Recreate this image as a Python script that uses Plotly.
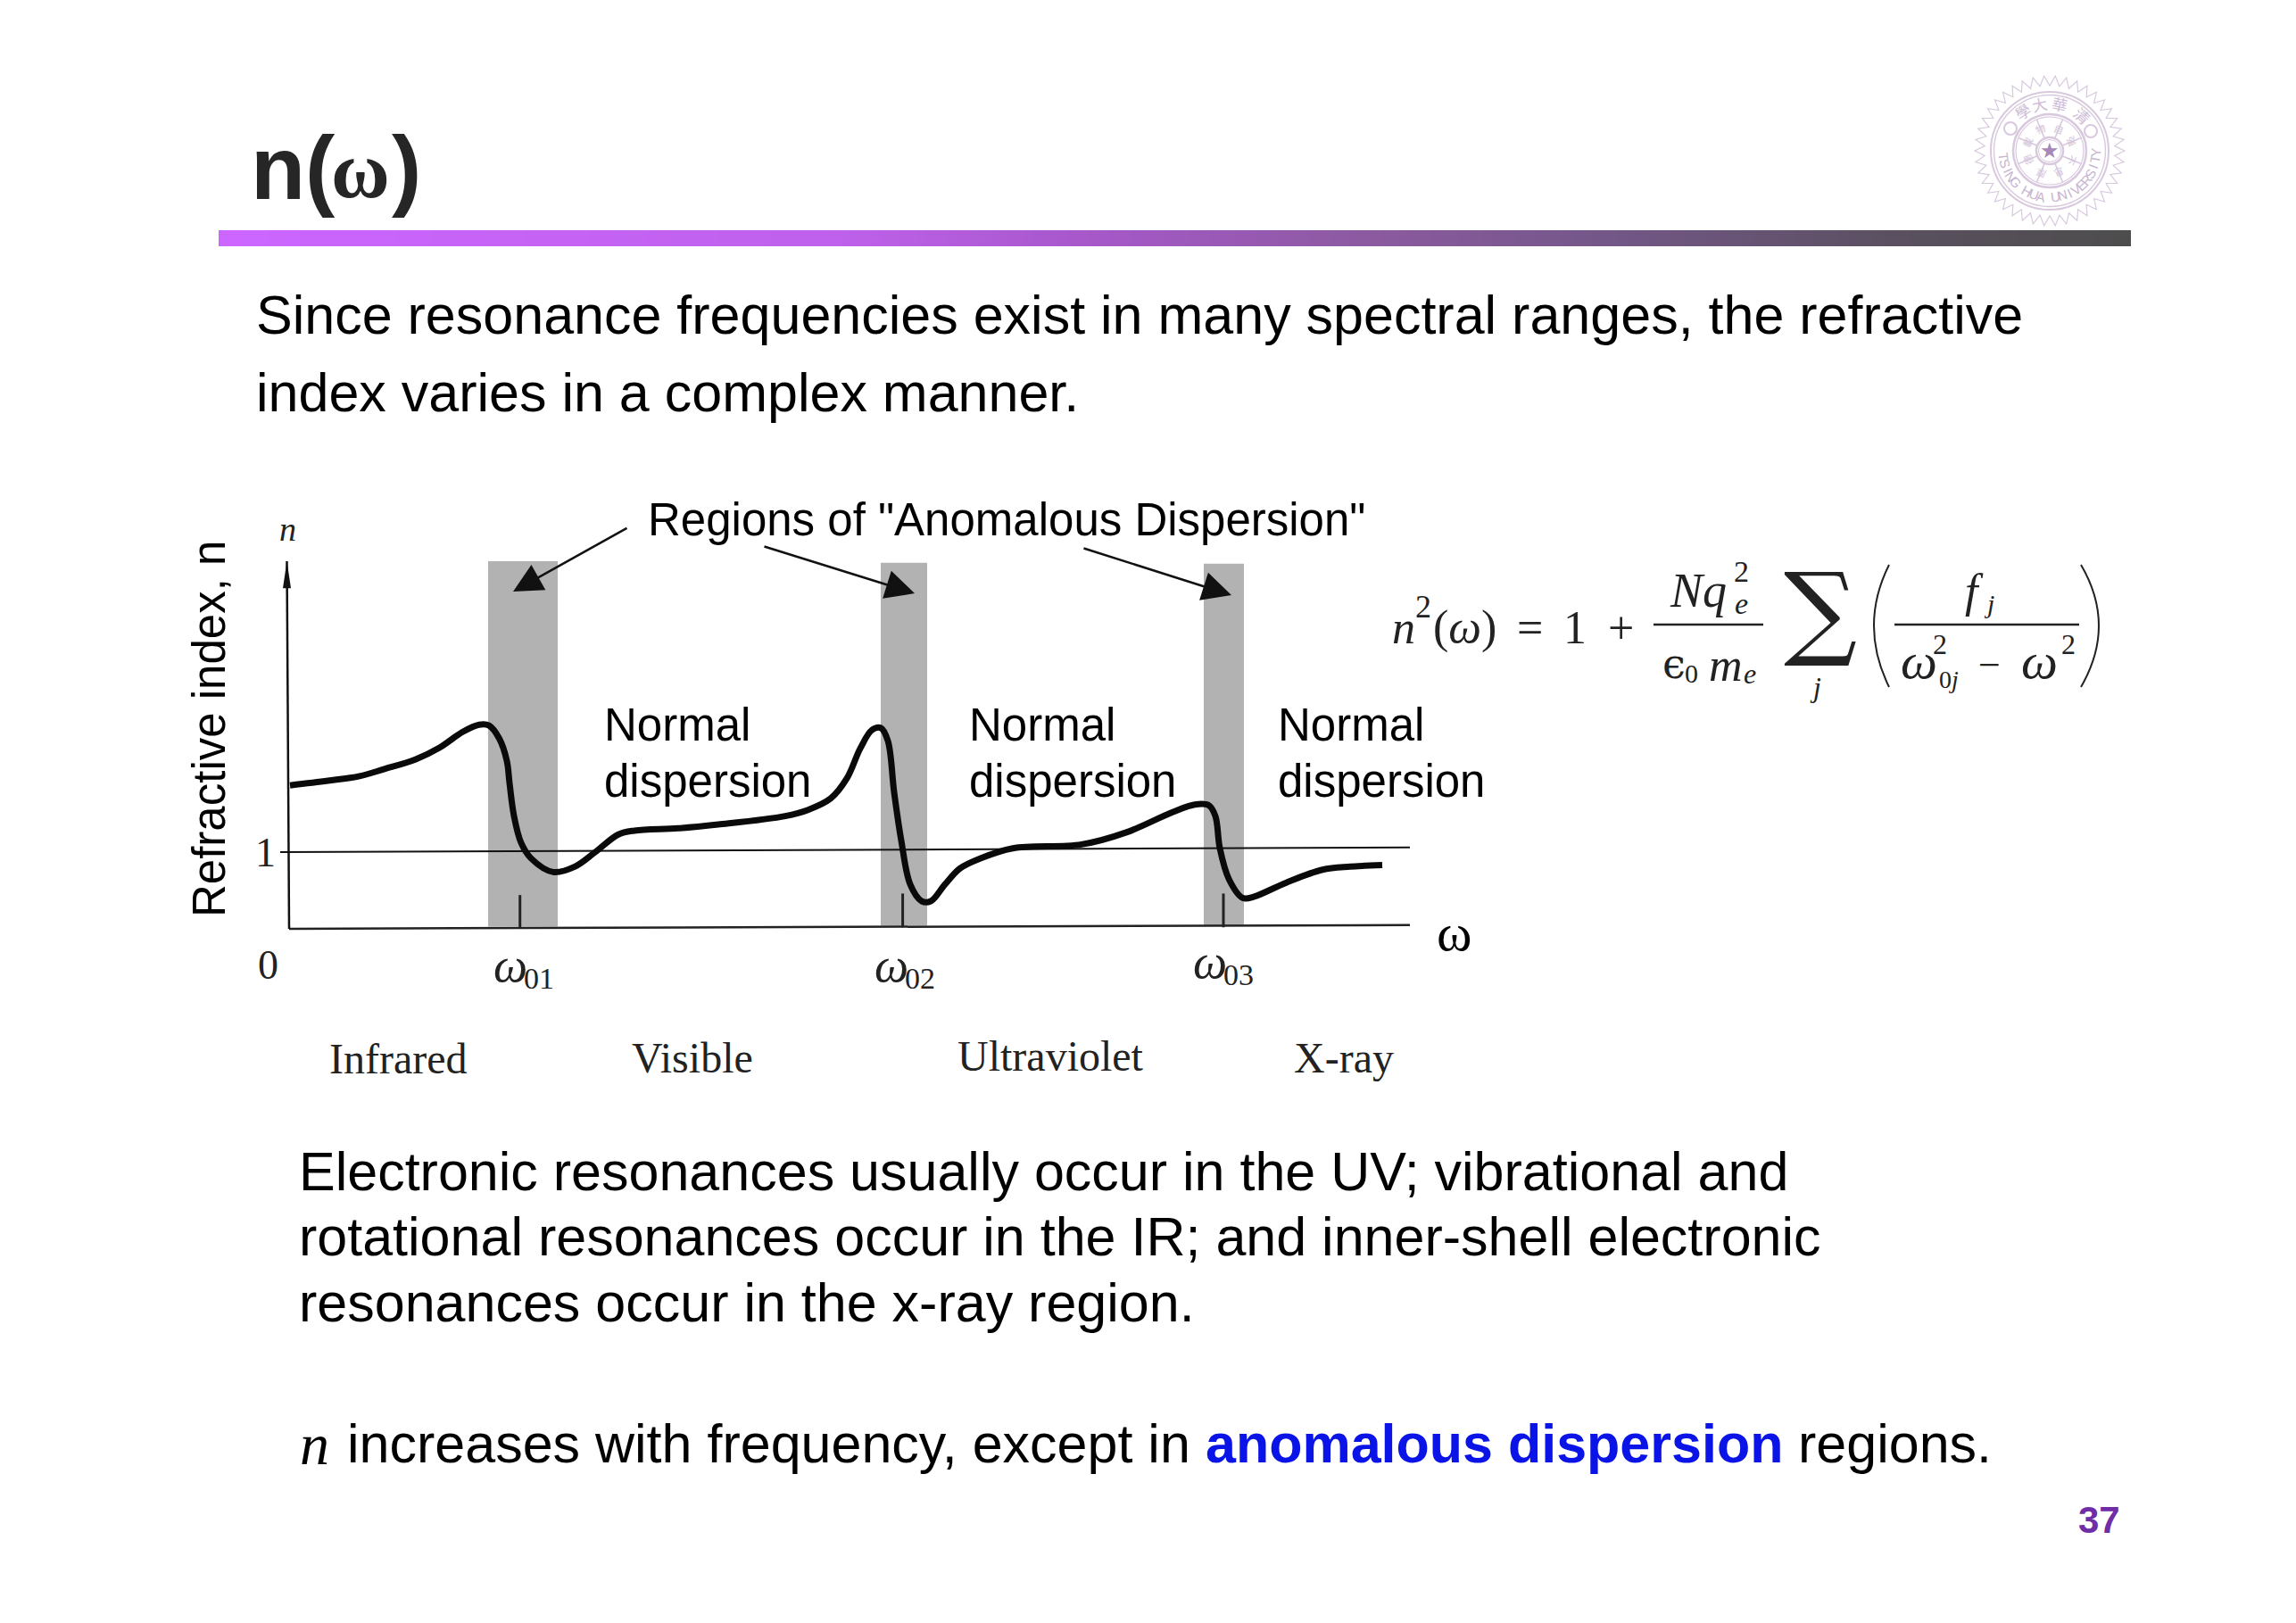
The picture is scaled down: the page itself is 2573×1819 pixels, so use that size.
import math
import plotly.graph_objects as go

W, H = 2573, 1819

# ---- chart data -------------------------------------------------------
omega = [0.01,0.435,0.79,1.06,1.42,1.685,1.95,2.13,2.24,2.355,2.44,2.47,2.52,2.60,2.71,2.96,3.20,3.43,3.69,3.87,
         4.36,4.81,5.56,5.815,6.07,6.25,6.40,6.53,6.63,6.71,6.78,6.86,6.96,7.09,7.19,7.35,7.52,7.75,8.11,8.88,
         9.39,9.90,10.15,10.305,10.38,10.43,10.535,10.69,10.815,11.17,11.58,11.89,12.25]
n_values = [1.87,1.93,1.99,2.08,2.21,2.36,2.57,2.66,2.65,2.48,2.19,1.90,1.47,1.12,0.92,0.74,0.81,1.00,1.23,1.28,
            1.31,1.36,1.47,1.55,1.70,1.96,2.35,2.59,2.62,2.45,1.78,1.15,0.58,0.36,0.36,0.58,0.79,0.92,1.05,1.10,
            1.26,1.52,1.62,1.61,1.47,1.05,0.64,0.40,0.42,0.60,0.77,0.81,0.83]
band_left = [2.23, 6.63, 10.25]
band_right = [3.01, 7.15, 10.70]
band_top = [4.79, 4.77, 4.76]
band_bottom = [0.03, 0.04, 0.04]
resonances = [2.587, 6.876, 10.47]
resonance_tick_top = [0.44, 0.46, 0.46]
unity_x = [-0.10, 12.56]
unity_y = [1.0, 1.06]
base_x = [0.0, 12.56]
base_y = [0.0, 0.05]
axis_x = [-0.025, 0.0]
axis_y = [4.79, 0.0]
region_names = ["Infrared", "Visible", "Ultraviolet", "X-ray"]
resonance_names = ["01", "02", "03"]
gradient_stops = [0, 1, 2, 3, 4, 5, 6, 7, 8, 9, 10, 11, 12, 13, 14, 15, 16]

SANS = "Liberation Sans"
SERIF = "Liberation Serif"
GREY = "#b2b2b2"
SEAL = "#d8c9de"
BODY = 61


def px(x):
    return x / W


def py(y):
    return 1 - y / H


annotations = []


def text(x, y, s, size, font=SANS, color="#000000", anchor="left", angle=0, ya="middle"):
    annotations.append(dict(x=px(x), y=py(y), xref="paper", yref="paper", text=s, showarrow=False,
                            xanchor=anchor, yanchor=ya, textangle=angle,
                            font=dict(family=font, size=size, color=color)))


fig = go.Figure()

# gradient rule below the title
fig.add_trace(go.Heatmap(z=[gradient_stops, gradient_stops], x=[i * 133.9 for i in range(17)], y=[0, 1], xaxis="x2", yaxis="y2",
                         showscale=False, hoverinfo="skip", zsmooth="best",
                         colorscale=[[0, "#CC66FF"], [0.32, "#BF61EC"], [0.446, "#A858CC"], [0.6, "#8C5AA0"],
                                     [0.726, "#735788"], [0.88, "#5A505F"], [1, "#4D4D4D"]]))

# chart lines
fig.add_trace(go.Scatter(x=unity_x, y=unity_y, mode="lines", line=dict(color="#111111", width=2), hoverinfo="skip"))
fig.add_trace(go.Scatter(x=base_x, y=base_y, mode="lines", line=dict(color="#222222", width=2.5), hoverinfo="skip"))
fig.add_trace(go.Scatter(x=axis_x, y=axis_y, mode="lines", line=dict(color="#111111", width=2.5), hoverinfo="skip"))
for r, t in zip(resonances, resonance_tick_top):
    fig.add_trace(go.Scatter(x=[r, r], y=[0.02, t], mode="lines", line=dict(color="#222222", width=3), hoverinfo="skip"))
fig.add_trace(go.Scatter(x=omega, y=n_values, mode="lines", line=dict(color="#0a0a0a", width=7, shape="spline", smoothing=1.0),
                         hoverinfo="skip"))

shapes = []
for l, r, t, b in zip(band_left, band_right, band_top, band_bottom):
    shapes.append(dict(type="rect", xref="x", yref="y", x0=l, x1=r, y0=b, y1=t, fillcolor=GREY,
                       line=dict(width=0), layer="below"))
# slim arrow head on the n axis
shapes.append(dict(type="path", xref="x", yref="y", fillcolor="#111111", line=dict(width=0),
                   path=f"M{axis_x[0]-0.045},{axis_y[0]-0.35} L{axis_x[0]},{axis_y[0]} L{axis_x[0]+0.045},{axis_y[0]-0.35} Z"))


# seal
def circle(cx, cy, r, width=1.4):
    shapes.append(dict(type="circle", xref="paper", yref="paper", x0=px(cx - r), x1=px(cx + r), y0=py(cy + r), y1=py(cy - r),
                       line=dict(color=SEAL, width=width)))


cx, cy = 2297, 169
for r, w in [(66, 2), (62.5, 1.4), (41, 2.5), (38, 1.2), (15, 2.5), (12.5, 1)]:
    circle(cx, cy, r, w)
circle(cx - 44, cy - 25, 7, 2)
circle(cx + 46, cy - 22, 7, 2)
pts = []
teeth = 42
for i in range(teeth * 2):
    a = 2 * math.pi * i / (teeth * 2)
    r = 84 if i % 2 == 0 else 73
    pts.append(f"{px(cx + r * math.cos(a)):.5f},{py(cy + r * math.sin(a)):.5f}")
shapes.append(dict(type="path", xref="paper", yref="paper", path="M" + " L".join(pts) + " Z",
                   line=dict(color=SEAL, width=1.2)))
for k in range(8):
    a = 2 * math.pi * (k + 0.5) / 8
    shapes.append(dict(type="line", xref="paper", yref="paper",
                       x0=px(cx + 15 * math.cos(a)), y0=py(cy + 15 * math.sin(a)),
                       x1=px(cx + 38 * math.cos(a)), y1=py(cy + 38 * math.sin(a)),
                       line=dict(color=SEAL, width=1.5)))
text(cx, cy, "★", 24, "DejaVu Sans", "#a888b8", "center")
for ch, ang in zip("學大華清", [-34, -12, 12, 43]):
    a = math.radians(ang - 90)
    text(cx + 54 * math.cos(a), cy + 54 * math.sin(a), ch, 17, "Noto Sans CJK TC", "#cdbcd5", "center", angle=ang)
for ch, ang in zip("自強不息厚德載物", [22, 67, 112, 157, 202, 247, 292, 337]):
    a = math.radians(ang - 90)
    text(cx + 27 * math.cos(a), cy + 27 * math.sin(a), ch, 11, "Noto Sans CJK TC", "#d3c4da", "center", angle=ang)
word = "TSING HUA UNIVERSITY"
for i, ch in enumerate(word):
    ang = 263 - i * 9.0
    a = math.radians(ang - 90)
    text(cx + 52 * math.cos(a), cy + 52 * math.sin(a), ch, 15, SANS, "#c7b5d0", "center", angle=ang - 180)

# header
text(279, 188, "<b>n(</b>", 100, SANS, "#262626")
text(369, 190, "<b>ω</b>", 90, SERIF, "#262626")
text(437, 188, "<b>)</b>", 100, SANS, "#262626")
text(2352, 1703, "<b>37</b>", 42, SANS, "#6F2DA8", "center")

# body text
text(285, 353, "Since resonance frequencies exist in many spectral ranges, the refractive", BODY)
text(285, 440, "index varies in a complex manner.", BODY)
text(333, 1313, "Electronic resonances usually occur in the UV; vibrational and", BODY)
text(333, 1386, "rotational resonances occur in the IR; and inner-shell electronic", BODY)
text(333, 1460, "resonances occur in the x-ray region.", BODY)
text(334, 1618, "<i>n</i>", 66, SERIF)
text(387, 1618, "increases with frequency, except in", BODY)
text(1349, 1618, "<b>anomalous dispersion</b>", BODY, SANS, "#0A14E6")
text(2013, 1618, "regions.", BODY)

# chart labels
text(724, 582, 'Regions of "Anomalous Dispersion"', 51)
for x0 in (675, 1084, 1430):
    text(x0, 812, "Normal", 51)
    text(x0, 875, "dispersion", 51)
text(234, 817, "Refractive index, n", 51, angle=-90, anchor="center")
text(1630, 1045, "ω", 60, SERIF, anchor="center")
text(322, 593, "<i>n</i>", 38, SERIF, "#222222", "center")
text(297, 955, "1", 46, SERIF, "#222222", "center")
text(300, 1081, "0", 46, SERIF, "#222222", "center")
for nm, ox, oy in zip(resonance_names, (572, 999, 1356), (1082, 1082, 1078)):
    text(ox, oy, "<i>ω</i>", 54, SERIF, "#222222", "center")
    text(ox + 32, oy + 14, nm, 34, SERIF, "#222222", "center")
for nm, xc, yc in zip(region_names, (446, 776, 1177, 1506), (1186, 1185, 1183, 1185)):
    text(xc, yc, nm, 48, SERIF, "#222222", "center")

# formula
F = "#222222"
text(1558, 703, "<i>n</i>", 52, SERIF, F)
text(1584, 680, "2", 36, SERIF, F)
text(1604, 703, "(<i>ω</i>)", 52, SERIF, F)
text(1714, 703, "=", 52, SERIF, F, "center")
text(1765, 703, "1", 52, SERIF, F, "center")
text(1816, 703, "+", 52, SERIF, F, "center")
text(1869, 662, "<i>Nq</i>", 54, SERIF, F)
text(1952, 640, "2", 34, SERIF, F, "center")
text(1952, 676, "<i>e</i>", 34, SERIF, F, "center")
text(1876, 744, "ϵ", 46, "DejaVu Serif", F, "center")
text(1895, 754, "0", 30, SERIF, F, "center")
text(1934, 746, "<i>m</i>", 52, SERIF, F, "center")
text(1961, 755, "<i>e</i>", 32, SERIF, F, "center")
text(2040, 684, "∑", 115, "DejaVu Serif", F, "center")
text(2034, 770, "<i>j</i>", 32, SERIF, F, "center")
text(2212, 662, "<i>f</i>", 52, SERIF, F, "center")
text(2229, 676, "<i>j</i>", 30, SERIF, F, "center")
text(2150, 741, "<i>ω</i>", 58, SERIF, F, "center")
text(2174, 722, "2", 32, SERIF, F, "center")
text(2184, 761, "0<i>j</i>", 28, SERIF, F, "center")
text(2229, 745, "−", 44, SERIF, F, "center")
text(2285, 741, "<i>ω</i>", 58, SERIF, F, "center")
text(2318, 722, "2", 32, SERIF, F, "center")
for a, b in ((1853, 1976), (2123, 2330)):
    shapes.append(dict(type="line", xref="paper", yref="paper", x0=px(a), x1=px(b), y0=py(700), y1=py(700),
                       line=dict(color="#222222", width=2.5)))
for x_end, x_ctrl in ((2117, 2083), (2332, 2372)):
    shapes.append(dict(type="path", xref="paper", yref="paper", line=dict(color="#222222", width=2),
                       path=f"M{px(x_end):.5f},{py(633):.5f} Q{px(x_ctrl):.5f},{py(701):.5f} {px(x_end):.5f},{py(770):.5f}"))

# arrows
for (x1, y1, x0, y0) in ((575, 663, 704, 591), (1025, 665, 855, 612), (1380, 667, 1213, 614)):
    annotations.append(dict(x=px(x1), y=py(y1), xref="paper", yref="paper", ax=x0 - x1, ay=y0 - y1, axref="pixel", ayref="pixel",
                            text="", showarrow=True, arrowhead=2, arrowsize=2.6, arrowwidth=2.5, arrowcolor="#111111"))

fig.update_layout(
    width=W, height=H, autosize=False, margin=dict(l=0, r=0, t=0, b=0), showlegend=False,
    paper_bgcolor="white", plot_bgcolor="rgba(0,0,0,0)",
    xaxis=dict(domain=[304 / W, 1624 / W], range=[-0.2, 13], visible=False, fixedrange=True),
    yaxis=dict(domain=[(H - 1050) / H, (H - 620) / H], range=[-9 / 86, 421 / 86], visible=False, fixedrange=True),
    xaxis2=dict(domain=[245 / W, 2388 / W], range=[0, 2142.4], visible=False, anchor="y2", fixedrange=True),
    yaxis2=dict(domain=[(H - 276) / H, (H - 258) / H], range=[0, 1], visible=False, anchor="x2", fixedrange=True),
    shapes=shapes, annotations=annotations,
)
fig.write_html("out.html", config=dict(displayModeBar=False),
               post_script="document.body.style.margin='0';document.body.style.overflow='hidden';")
